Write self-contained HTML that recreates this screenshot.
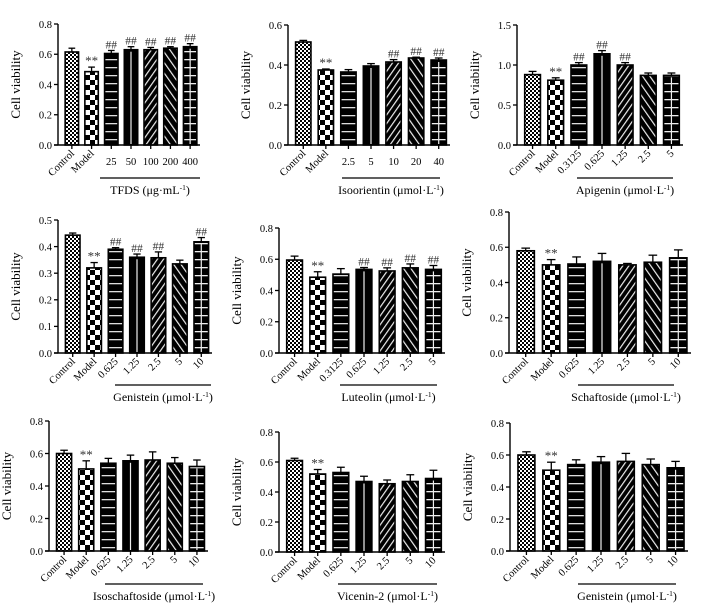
<!DOCTYPE html>
<html><head><meta charset="utf-8"><style>
html,body{margin:0;padding:0;background:#fff;}
svg{display:block;font-family:"Liberation Serif",serif;}
</style></head><body>
<svg id="fig" width="706" height="612" viewBox="0 0 706 612">
<defs>
<pattern id="pFine" patternUnits="userSpaceOnUse" width="4" height="4"><rect width="4" height="4" fill="#fff"/><rect width="2" height="2" fill="#000"/><rect x="2" y="2" width="2" height="2" fill="#000"/></pattern>
<pattern id="pBig" patternUnits="userSpaceOnUse" width="10" height="10"><rect width="10" height="10" fill="#fff"/><rect width="5" height="5" fill="#000"/><rect x="5" y="5" width="5" height="5" fill="#000"/></pattern>
<pattern id="pHor" patternUnits="userSpaceOnUse" width="10" height="8"><rect width="10" height="8" fill="#000"/><rect y="3" width="10" height="1.3" fill="#ddd"/></pattern>
<pattern id="pSolid" patternUnits="userSpaceOnUse" width="4" height="4"><rect width="4" height="4" fill="#000"/></pattern>
<pattern id="pFwd" patternUnits="userSpaceOnUse" width="5" height="5" patternTransform="rotate(35)"><rect width="5" height="5" fill="#000"/><rect x="2" width="1.2" height="5" fill="#eee"/></pattern>
<pattern id="pBack" patternUnits="userSpaceOnUse" width="6" height="6" patternTransform="rotate(-35)"><rect width="6" height="6" fill="#000"/><rect x="2" width="1.2" height="6" fill="#eee"/></pattern>
<pattern id="pGrid" patternUnits="userSpaceOnUse" width="20" height="8"><rect width="20" height="8" fill="#000"/><rect y="3" width="20" height="1.3" fill="#eee"/></pattern>
</defs>
</svg>
<script>
// ---- data ----
const p1Categories = ["Control","Model","25","50","100","200","400"];
const p1Values = [0.615,0.485,0.605,0.63,0.63,0.64,0.65];
const p1Errors = [0.025,0.03,0.02,0.02,0.015,0.01,0.02];
const p1Marks = ["","**","##","##","##","##","##"];
const p1Ticks = ["0.0","0.2","0.4","0.6","0.8"];

const p2Categories = ["Control","Model","2.5","5","10","20","40"];
const p2Values = [0.515,0.375,0.365,0.395,0.415,0.435,0.425];
const p2Errors = [0.008,0.005,0.012,0.012,0.012,0.004,0.01];
const p2Marks = ["","**","","","##","##","##"];
const p2Ticks = ["0.0","0.2","0.4","0.6"];

const p3Categories = ["Control","Model","0.3125","0.625","1.25","2.5","5"];
const p3Values = [0.88,0.81,1.0,1.14,1.0,0.87,0.87];
const p3Errors = [0.04,0.03,0.03,0.04,0.03,0.03,0.03];
const p3Marks = ["","**","##","##","##","",""];
const p3Ticks = ["0.0","0.5","1.0","1.5"];

const p4Categories = ["Control","Model","0.625","1.25","2.5","5","10"];
const p4Values = [0.443,0.32,0.39,0.36,0.358,0.335,0.418];
const p4Errors = [0.008,0.02,0.006,0.012,0.022,0.014,0.016];
const p4Marks = ["","**","##","##","##","","##"];
const p4Ticks = ["0.0","0.1","0.2","0.3","0.4","0.5"];

const p5Categories = ["Control","Model","0.3125","0.625","1.25","2.5","5"];
const p5Values = [0.595,0.485,0.505,0.535,0.525,0.545,0.535];
const p5Errors = [0.025,0.035,0.035,0.012,0.02,0.025,0.025];
const p5Marks = ["","**","","##","##","##","##"];
const p5Ticks = ["0.0","0.2","0.4","0.6","0.8"];

const p6Categories = ["Control","Model","0.625","1.25","2.5","5","10"];
const p6Values = [0.58,0.50,0.505,0.52,0.50,0.515,0.54];
const p6Errors = [0.015,0.03,0.04,0.045,0.008,0.04,0.045];
const p6Marks = ["","**","","","","",""];
const p6Ticks = ["0.0","0.2","0.4","0.6","0.8"];

const p7Categories = ["Control","Model","0.625","1.25","2.5","5","10"];
const p7Values = [0.60,0.505,0.54,0.555,0.56,0.54,0.52];
const p7Errors = [0.02,0.05,0.03,0.035,0.05,0.035,0.04];
const p7Marks = ["","**","","","","",""];
const p7Ticks = ["0.0","0.2","0.4","0.6","0.8"];

const p8Categories = ["Control","Model","0.625","1.25","2.5","5","10"];
const p8Values = [0.61,0.52,0.53,0.47,0.455,0.47,0.49];
const p8Errors = [0.015,0.03,0.035,0.035,0.025,0.045,0.055];
const p8Marks = ["","**","","","","",""];
const p8Ticks = ["0.0","0.2","0.4","0.6","0.8"];

const p9Categories = ["Control","Model","0.625","1.25","2.5","5","10"];
const p9Values = [0.60,0.505,0.54,0.555,0.56,0.54,0.52];
const p9Errors = [0.02,0.05,0.03,0.035,0.05,0.035,0.04];
const p9Marks = ["","**","","","","",""];
const p9Ticks = ["0.0","0.2","0.4","0.6","0.8"];

const fills = ["url(#pFine)","url(#pBig)","url(#pHor)","url(#pSolid)","url(#pFwd)","url(#pBack)","url(#pGrid)"];
const NS = "http://www.w3.org/2000/svg";
const svg = document.getElementById("fig");
function el(tag, attrs, parent, text){
  const e = document.createElementNS(NS, tag);
  for (const k in attrs) e.setAttribute(k, attrs[k]);
  if (text !== undefined) e.textContent = text;
  (parent||svg).appendChild(e);
  return e;
}
const panels = [
 {id:"tfds",cat:p1Categories,val:p1Values,err:p1Errors,mk:p1Marks,ticks:p1Ticks,ax:58,top:24,zero:145,end:200,line:[100,200,178],title:"TFDS (μg·mL",horiz:true},
 {id:"isoorientin",cat:p2Categories,val:p2Values,err:p2Errors,mk:p2Marks,ticks:p2Ticks,ax:288,top:25,zero:145,end:450,line:[342,440,178],title:"Isoorientin (μmol·L",horiz:true},
 {id:"apigenin",cat:p3Categories,val:p3Values,err:p3Errors,mk:p3Marks,ticks:p3Ticks,ax:517,top:25,zero:145,end:683,line:[577,673,178],title:"Apigenin (μmol·L"},
 {id:"genistein",cat:p4Categories,val:p4Values,err:p4Errors,mk:p4Marks,ticks:p4Ticks,ax:58,top:220,zero:353,end:212,line:[115,211,385],title:"Genistein (μmol·L"},
 {id:"luteolin",cat:p5Categories,val:p5Values,err:p5Errors,mk:p5Marks,ticks:p5Ticks,ax:279,top:228,zero:353,end:445,line:[340,437,385],title:"Luteolin (μmol·L"},
 {id:"schaftoside",cat:p6Categories,val:p6Values,err:p6Errors,mk:p6Marks,ticks:p6Ticks,ax:509,top:212,zero:353,end:691,line:[578,674,385],title:"Schaftoside (μmol·L"},
 {id:"isoschaftoside",cat:p7Categories,val:p7Values,err:p7Errors,mk:p7Marks,ticks:p7Ticks,ax:49,top:421,zero:551,end:208,line:[105,203,584],title:"Isoschaftoside (μmol·L"},
 {id:"vicenin",cat:p8Categories,val:p8Values,err:p8Errors,mk:p8Marks,ticks:p8Ticks,ax:279,top:432,zero:552,end:445,line:[338,437,584],title:"Vicenin-2 (μmol·L"},
 {id:"genistein-2",cat:p9Categories,val:p9Values,err:p9Errors,mk:p9Marks,ticks:p9Ticks,ax:510,top:423,zero:551,end:688,line:[578,676,584],title:"Genistein (μmol·L"}
];
panels.forEach(p=>{
  const g = el("g",{});
  
  
  const ymax = parseFloat(p.ticks[p.ticks.length-1]);
  const y = v => p.zero - (v/ymax)*(p.zero-p.top);
  const n = p.cat.length;
  const pitch = (p.end - p.ax - 4)/n;
  const cx = i => p.ax + 4 + pitch*(i+0.5);
  const bw = pitch*0.68;
  for (let i=0;i<n;i++){
    const top = y(p.val[i]);
    const eTop = y(p.val[i]+p.err[i]);
    const ln = el("line",{x1:cx(i),x2:cx(i),y1:top,y2:eTop,stroke:"#000","stroke-width":1.3},g);
    
    
    const cap = el("line",{x1:cx(i)-bw*0.25,x2:cx(i)+bw*0.25,y1:eTop,y2:eTop,stroke:"#000","stroke-width":1.3},g);
    
    
    const r = el("rect",{x:cx(i)-bw/2,y:top,width:bw,height:p.zero-top,fill:fills[i],stroke:"#000","stroke-width":1.6},g);
    
    
    if (i===3 || i===6){
      const vl = el("line",{x1:cx(i),x2:cx(i),y1:top+2,y2:p.zero-1,stroke:"#eee","stroke-width":1.2},g);
      
      
    }
    if (p.mk[i]){
      const t = el("text",{x:cx(i),y:eTop-2,"text-anchor":"middle","font-size":p.mk[i]==="**"?13:11.5,fill:"#333"},g,p.mk[i]);
      
      
    }
    const xt = el("line",{x1:cx(i),x2:cx(i),y1:p.zero,y2:p.zero+4,stroke:"#000","stroke-width":1.3},g);
    
    
    let lab;
    if (p.horiz && i>=2){
      lab = el("text",{x:cx(i),y:p.zero+20,"text-anchor":"middle","font-size":10.5},g,p.cat[i]);
    } else {
      lab = el("text",{x:cx(i)+3,y:p.zero+9,"text-anchor":"end","font-size":10.5,transform:`rotate(-45 ${cx(i)+3} ${p.zero+9})`},g,p.cat[i]);
    }
    
    
  }
  const ya = el("line",{x1:p.ax,x2:p.ax,y1:p.top,y2:p.zero,stroke:"#000","stroke-width":1.4},g);
  
  
  const xa = el("line",{x1:p.ax-4,x2:p.end,y1:p.zero,y2:p.zero,stroke:"#000","stroke-width":1.4},g);
  
  
  p.ticks.forEach(tk=>{
    const yy = y(parseFloat(tk));
    const tl = el("line",{x1:p.ax-4,x2:p.ax,y1:yy,y2:yy,stroke:"#000","stroke-width":1.3},g);
    
    
    const tt = el("text",{x:p.ax-6,y:yy+3.8,"text-anchor":"end","font-size":10.5},g,tk);
    
    
  });
  const ymid = (p.top+p.zero)/2;
  const yt = el("text",{x:p.ax-38,y:ymid,"text-anchor":"middle","font-size":13,transform:`rotate(-90 ${p.ax-38} ${ymid})`},g,"Cell viability");
  
  
  const gl = el("line",{x1:p.line[0],x2:p.line[1],y1:p.line[2],y2:p.line[2],stroke:"#000","stroke-width":1.2},g);
  
  
  const tx = el("text",{x:(p.line[0]+p.line[1])/2,y:p.line[2]+16,"text-anchor":"middle","font-size":12},g);
  
  
  tx.appendChild(document.createTextNode(p.title));
  el("tspan",{"font-size":7.5,dy:-4},tx,"-1");
  el("tspan",{dy:4},tx,")");
});
</script>
</body></html>
